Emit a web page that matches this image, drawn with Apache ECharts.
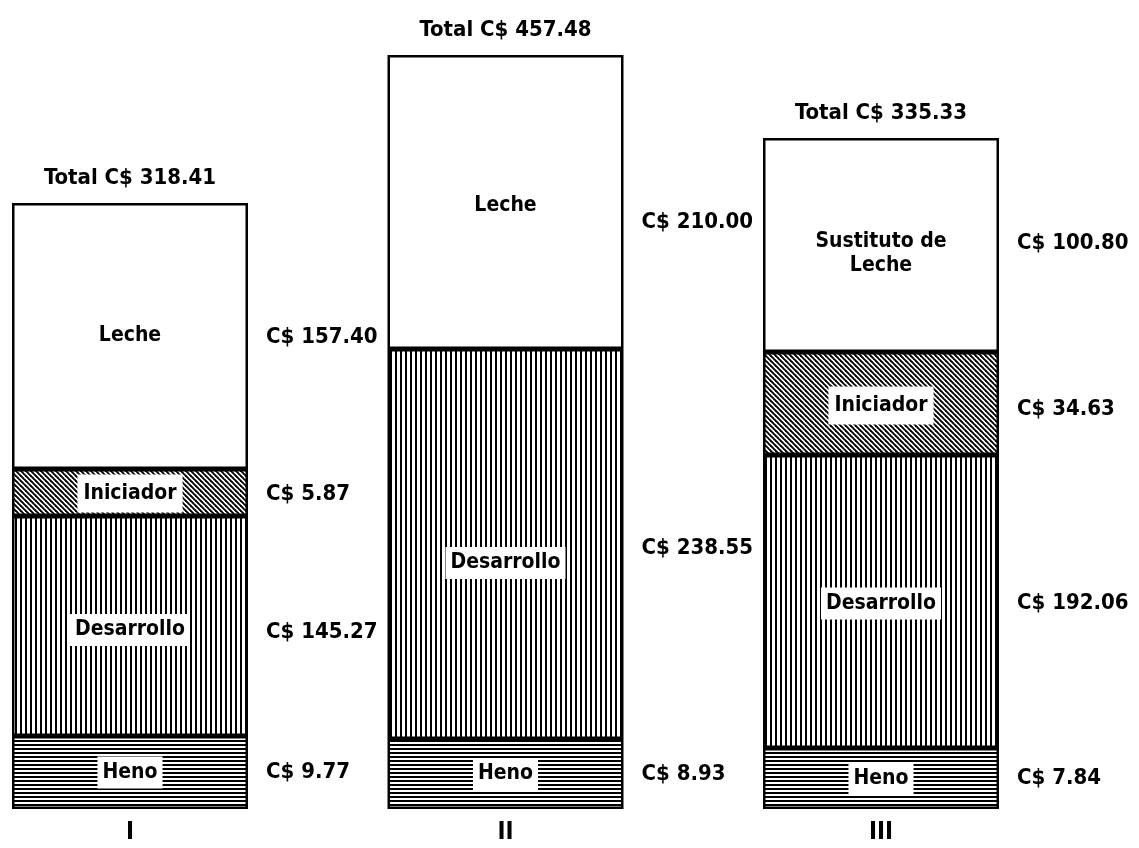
<!DOCTYPE html>
<html><head><meta charset="utf-8">
<script src="https://cdn.jsdelivr.net/npm/echarts@6/dist/echarts.min.js"></script>
<style>html,body{margin:0;padding:0;background:#fff}#c{width:1139px;height:848px}</style>
</head><body><div id="c"></div>
<script>
// ---- data ----
const groups = ['I', 'II', 'III'];
// costs printed beside each segment (C$)
const costHeno = [9.77, 8.93, 7.84];
const costDesarrollo = [145.27, 238.55, 192.06];
const costIniciador = [5.87, null, 34.63];
const costLeche = [157.40, 210.00, 100.80];
const costTotal = [318.41, 457.48, 335.33];
// segment heights as drawn in the reference (the original is not to scale), drawing units
const drawnHeno = [73, 70, 61];
const drawnDesarrollo = [220, 390, 293];
const drawnIniciador = [47, null, 103];
const drawnLeche = [266, 294, 214];
// segment names
const namesHeno = ['Heno', 'Heno', 'Heno'];
const namesDesarrollo = ['Desarrollo', 'Desarrollo', 'Desarrollo'];
const namesIniciador = ['Iniciador', null, 'Iniciador'];
const namesLeche = ['Leche', 'Leche', 'Sustituto de\nLeche'];

// ---- styles ----
const font = "'DejaVu Sans Condensed','Liberation Sans Narrow',sans-serif";
function pat(w, h, draw) {
  const c = document.createElement('canvas'); c.width = w; c.height = h;
  const g = c.getContext('2d'); g.fillStyle = '#fff'; g.fillRect(0, 0, w, h);
  g.fillStyle = '#000'; g.strokeStyle = '#000'; draw(g);
  return { image: c, repeat: 'repeat' };
}
const hLines = pat(4, 4, g => g.fillRect(0, 0, 4, 2));
const vLines = pat(5, 5, g => g.fillRect(0, 0, 2, 5));
const diag = pat(5, 5, g => {
  g.lineWidth = 1.9;
  for (let k = -2; k <= 2; k++) {
    g.beginPath(); g.moveTo(k * 5 - 1, -1); g.lineTo(k * 5 + 6, 6); g.stroke();
  }
});
const inLabel = { show: true, position: 'inside', color: '#000', fontFamily: font, fontWeight: 'bold',
  fontSize: 21, backgroundColor: '#fff', padding: [4, 5], lineHeight: 24 };
const outLabel = { show: true, position: 'right', distance: 18, color: '#000', fontFamily: font,
  fontWeight: 'bold', fontSize: 22 };

function seg(name, heights, names, pattern, nudge, pad) {
  return {
    type: 'bar', name, stack: 's', xAxisIndex: 0, barWidth: 236, clip: false, silent: true,
    itemStyle: { color: pattern, borderColor: '#000', borderWidth: 2.5 },
    label: Object.assign({}, inLabel, pad ? { padding: pad } : {}),
    data: heights.map((v, i) => v == null ? '-' : {
      value: v, label: { formatter: names[i], offset: [0, (nudge && nudge[i]) || 0] }
    })
  };
}
function val(name, heights, costs, nudge) {
  return {
    type: 'bar', name: name + ' C$', stack: 'v', xAxisIndex: 1, barWidth: 236, clip: false, silent: true,
    itemStyle: { color: 'rgba(0,0,0,0)', borderWidth: 0 },
    label: outLabel,
    data: heights.map((v, i) => v == null ? '-' : {
      value: v, label: { formatter: 'C$ ' + costs[i].toFixed(2), offset: [0, (nudge && nudge[i]) || 0] }
    })
  };
}
const drawnTotal = groups.map((g, i) => drawnHeno[i] + drawnDesarrollo[i] + (drawnIniciador[i] || 0) + drawnLeche[i]);

const xBase = { type: 'category', data: groups, boundaryGap: false };
const option = {
  animation: false,
  backgroundColor: '#fff',
  grid: { left: 130, right: 258, top: 9, bottom: 39 },
  xAxis: [
    Object.assign({}, xBase, { axisLine: { show: false }, axisTick: { show: false },
      axisLabel: { color: '#000', fontFamily: font, fontWeight: 'bold', fontSize: 24, margin: 12 } }),
    Object.assign({}, xBase, { show: false })
  ],
  yAxis: { type: 'value', min: 0, max: 800, show: false },
  series: [
    seg('Heno', drawnHeno, namesHeno, hLines),
    seg('Desarrollo', drawnDesarrollo, namesDesarrollo, vLines, [4, 19, 2]),
    seg('Iniciador', drawnIniciador, namesIniciador, diag, [1, 0, 2], [7, 6]),
    seg('Leche', drawnLeche, namesLeche, '#fff', [0, 4, 9]),
    val('Heno', drawnHeno, costHeno),
    val('Desarrollo', drawnDesarrollo, costDesarrollo, [6, 4, 2]),
    val('Iniciador', drawnIniciador, costIniciador, [2, 0, 6]),
    val('Leche', drawnLeche, costLeche, [1, 20, -2]),
    {
      type: 'scatter', xAxisIndex: 0, symbolSize: 0, silent: true, clip: false,
      itemStyle: { opacity: 1 },
      data: groups.map((g, i) => [g, drawnTotal[i]]),
      label: { show: true, position: 'top', distance: 14, color: '#000', fontFamily: font,
        fontWeight: 'bold', fontSize: 22,
        formatter: p => 'Total C$ ' + costTotal[p.dataIndex].toFixed(2) }
    }
  ]
};
echarts.init(document.getElementById('c')).setOption(option);
</script></body></html>
